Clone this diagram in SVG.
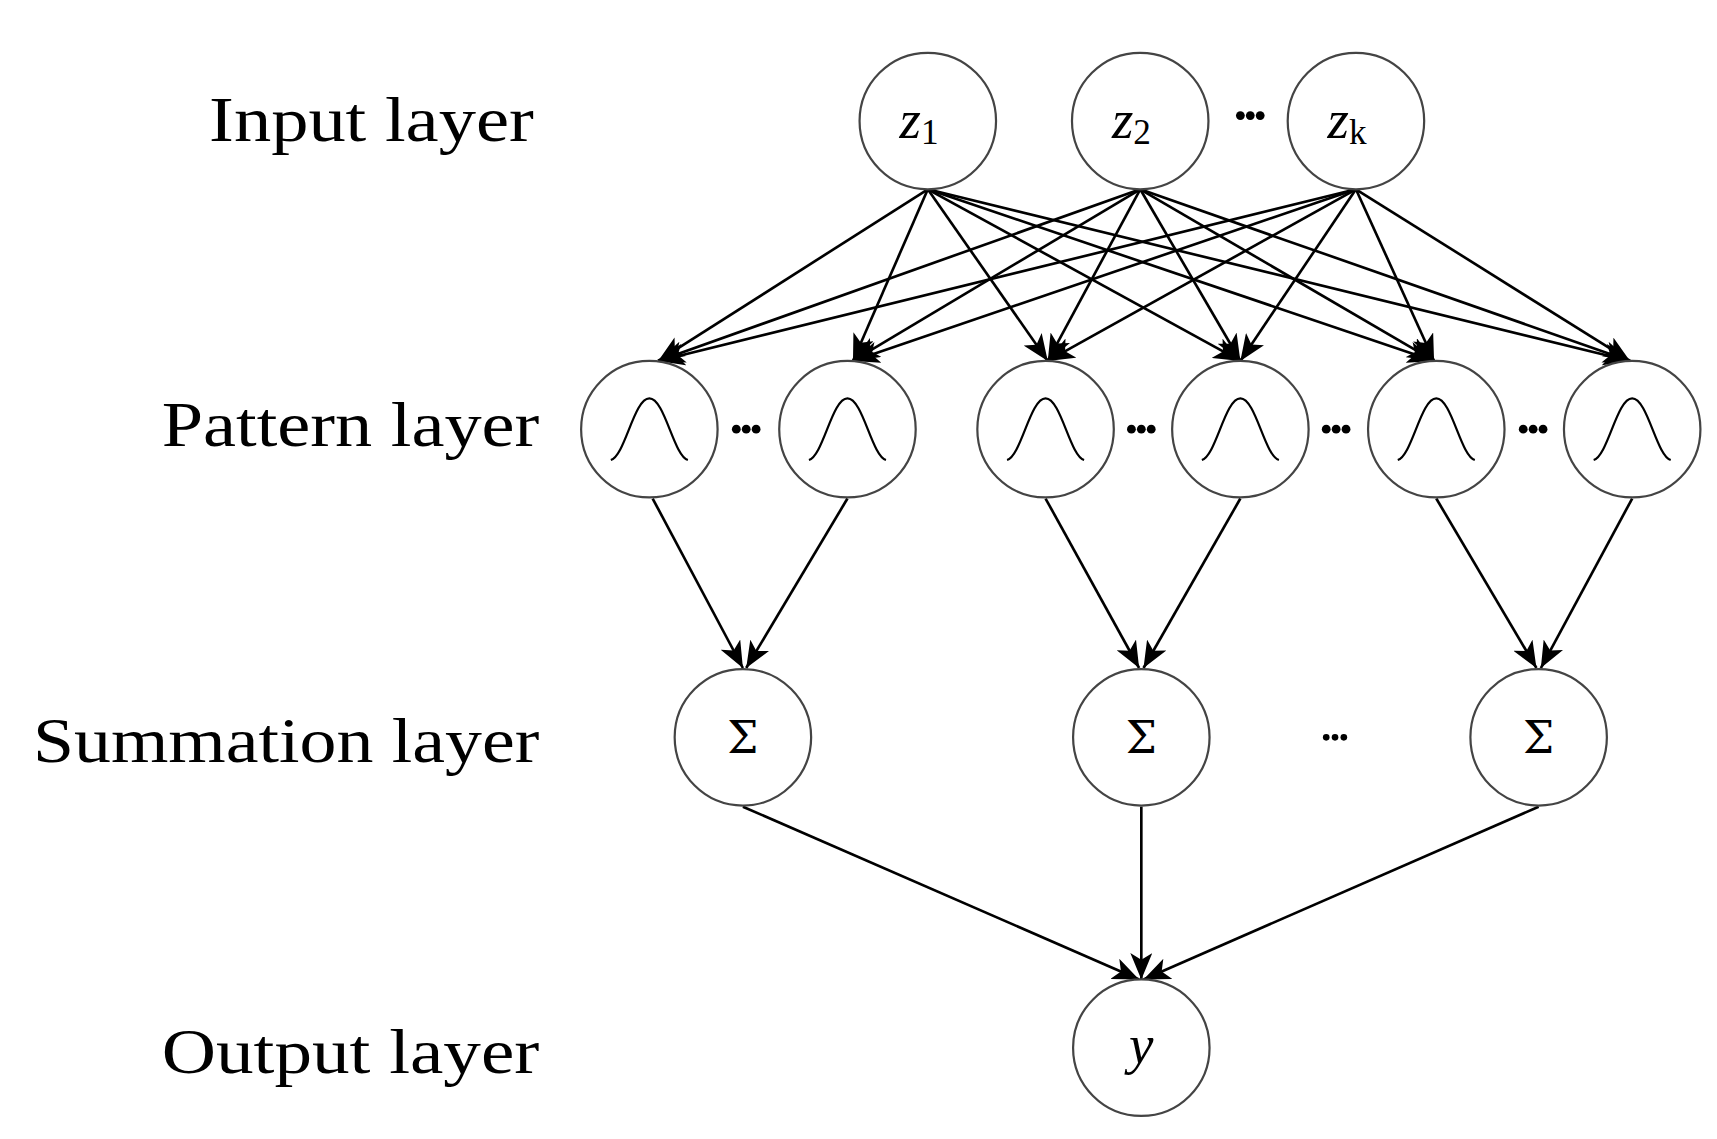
<svg xmlns="http://www.w3.org/2000/svg" width="1717" height="1139" viewBox="0 0 1717 1139">
<style>
.n{fill:#fff;stroke:#444;stroke-width:2}
.e{stroke:#000;stroke-width:2.4;fill:none}
.g{stroke:#000;stroke-width:2;fill:none}
.lbl{font-family:"Liberation Serif",serif;font-size:58px;text-anchor:end}
.m{font-family:"Liberation Serif",serif;font-size:50px;font-style:italic;text-anchor:middle}
.s{font-family:"Liberation Serif",serif;font-size:32px}
.sig{font-family:"DejaVu Serif",serif;font-size:40px;text-anchor:middle}
</style>
<defs>
<marker id="a" markerUnits="userSpaceOnUse" markerWidth="26" markerHeight="20" refX="24" refY="10" orient="auto"><path d="M0,0 L24,10 L0,20 L6,10 Z" fill="#000"/></marker>
<path id="gs" d="M-35,28 C-22,24 -14,-28 0,-28 C14,-28 22,24 35,28" class="g"/>
</defs>
<rect width="1717" height="1139" fill="#fff"/>
<g transform="scale(1.1006,1.1005)">
<g id="labels">
<text class="lbl" x="485" y="128" textLength="295" lengthAdjust="spacingAndGlyphs">Input layer</text>
<text class="lbl" x="490" y="405" textLength="343" lengthAdjust="spacingAndGlyphs">Pattern layer</text>
<text class="lbl" x="490" y="692" textLength="460" lengthAdjust="spacingAndGlyphs">Summation layer</text>
<text class="lbl" x="490" y="975" textLength="343" lengthAdjust="spacingAndGlyphs">Output layer</text>
</g>
<g id="edges" class="e" marker-end="url(#a)">
<line x1="843" y1="172" x2="598" y2="328"/><line x1="843" y1="172" x2="775" y2="328"/><line x1="843" y1="172" x2="952" y2="328"/><line x1="843" y1="172" x2="1127" y2="328"/><line x1="843" y1="172" x2="1303" y2="328"/><line x1="843" y1="172" x2="1481" y2="328"/>
<line x1="1036" y1="172" x2="598" y2="328"/><line x1="1036" y1="172" x2="775" y2="328"/><line x1="1036" y1="172" x2="952" y2="328"/><line x1="1036" y1="172" x2="1127" y2="328"/><line x1="1036" y1="172" x2="1303" y2="328"/><line x1="1036" y1="172" x2="1481" y2="328"/>
<line x1="1232" y1="172" x2="598" y2="328"/><line x1="1232" y1="172" x2="775" y2="328"/><line x1="1232" y1="172" x2="952" y2="328"/><line x1="1232" y1="172" x2="1127" y2="328"/><line x1="1232" y1="172" x2="1303" y2="328"/><line x1="1232" y1="172" x2="1481" y2="328"/>
<line x1="593" y1="453" x2="675" y2="607"/><line x1="770" y1="453" x2="678" y2="607"/><line x1="950" y1="453" x2="1035" y2="607"/><line x1="1127" y1="453" x2="1039" y2="607"/><line x1="1305" y1="453" x2="1396" y2="607"/><line x1="1483" y1="453" x2="1400" y2="607"/>
<line x1="675" y1="733" x2="1035" y2="890"/><line x1="1037" y1="733" x2="1037" y2="890"/><line x1="1398" y1="733" x2="1039" y2="890"/>
</g>
<g id="z1"><circle class="n" cx="843" cy="110" r="62"/><text class="m" x="835" y="125">z<tspan class="s" font-style="normal" dy="6">1</tspan></text></g>
<g id="z2"><circle class="n" cx="1036" cy="110" r="62"/><text class="m" x="1028" y="125">z<tspan class="s" font-style="normal" dy="6">2</tspan></text></g>
<g id="zk"><circle class="n" cx="1232" cy="110" r="62"/><text class="m" x="1224" y="125">z<tspan class="s" font-style="normal" dy="6">k</tspan></text></g>
<g id="dots" fill="#000">
<circle cx="1127" cy="105" r="4"/><circle cx="1136" cy="105" r="4"/><circle cx="1145" cy="105" r="4"/>
<circle cx="669" cy="390" r="4"/><circle cx="678" cy="390" r="4"/><circle cx="687" cy="390" r="4"/>
<circle cx="1028" cy="390" r="4"/><circle cx="1037" cy="390" r="4"/><circle cx="1046" cy="390" r="4"/>
<circle cx="1205" cy="390" r="4"/><circle cx="1214" cy="390" r="4"/><circle cx="1223" cy="390" r="4"/>
<circle cx="1384" cy="390" r="4"/><circle cx="1393" cy="390" r="4"/><circle cx="1402" cy="390" r="4"/>
<circle cx="1205" cy="670" r="3"/><circle cx="1213" cy="670" r="3"/><circle cx="1221" cy="670" r="3"/>
</g>
<g id="p1"><circle class="n" cx="590" cy="390" r="62"/><use href="#gs" x="590" y="390"/></g>
<g id="p2"><circle class="n" cx="770" cy="390" r="62"/><use href="#gs" x="770" y="390"/></g>
<g id="p3"><circle class="n" cx="950" cy="390" r="62"/><use href="#gs" x="950" y="390"/></g>
<g id="p4"><circle class="n" cx="1127" cy="390" r="62"/><use href="#gs" x="1127" y="390"/></g>
<g id="p5"><circle class="n" cx="1305" cy="390" r="62"/><use href="#gs" x="1305" y="390"/></g>
<g id="p6"><circle class="n" cx="1483" cy="390" r="62"/><use href="#gs" x="1483" y="390"/></g>
<g id="s1"><circle class="n" cx="675" cy="670" r="62"/><text class="sig" x="675" y="684">Σ</text></g>
<g id="s2"><circle class="n" cx="1037" cy="670" r="62"/><text class="sig" x="1037" y="684">Σ</text></g>
<g id="s3"><circle class="n" cx="1398" cy="670" r="62"/><text class="sig" x="1398" y="684">Σ</text></g>
<g id="y"><circle class="n" cx="1037" cy="952" r="62"/><text class="m" x="1037" y="966">y</text></g>
</g>
</svg>
